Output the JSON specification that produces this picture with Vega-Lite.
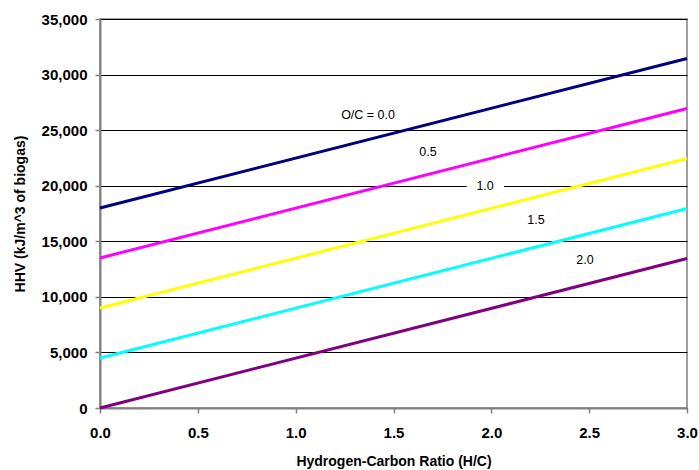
{
  "$schema": "https://vega.github.io/schema/vega-lite/v6.json",
  "autosize": {"type": "none"},
  "width": 587,
  "height": 389,
  "padding": {"left": 100, "top": 19, "right": 12, "bottom": 62},
  "background": "white",
  "config": {
    "font": "Liberation Sans",
    "view": {"stroke": "#808080", "strokeWidth": 1.5},
    "axis": {
      "labelFont": "Liberation Sans",
      "titleFont": "Liberation Sans",
      "labelFontWeight": "bold",
      "titleFontWeight": "bold",
      "labelColor": "black",
      "titleColor": "black",
      "labelFontSize": 15,
      "titleFontSize": 14,
      "domainColor": "#808080",
      "domainWidth": 2,
      "tickColor": "#808080",
      "tickWidth": 1.5,
      "tickSize": 5
    }
  },
  "datasets": {
    "lines": [
      {"hc": 0, "hhv": 18000, "oc": "0.0"},
      {"hc": 3, "hhv": 31450, "oc": "0.0"},
      {"hc": 0, "hhv": 13500, "oc": "0.5"},
      {"hc": 3, "hhv": 26950, "oc": "0.5"},
      {"hc": 0, "hhv": 9000, "oc": "1.0"},
      {"hc": 3, "hhv": 22450, "oc": "1.0"},
      {"hc": 0, "hhv": 4500, "oc": "1.5"},
      {"hc": 3, "hhv": 17950, "oc": "1.5"},
      {"hc": 0, "hhv": 0, "oc": "2.0"},
      {"hc": 3, "hhv": 13450, "oc": "2.0"}
    ],
    "labels": [
      {"hc": 1.37, "hhv": 26400, "text": "O/C = 0.0"},
      {"hc": 1.676, "hhv": 23000, "text": "0.5"},
      {"hc": 1.968, "hhv": 20000, "text": "1.0"},
      {"hc": 2.228, "hhv": 16900, "text": "1.5"},
      {"hc": 2.479, "hhv": 13300, "text": "2.0"}
    ],
    "gap": [
      {"x1": 1.874, "x2": 2.065, "y1": 19700, "y2": 20300}
    ]
  },
  "layer": [
    {
      "data": {"name": "gap"},
      "mark": {"type": "rect", "color": "white"},
      "encoding": {
        "x": {"field": "x1", "type": "quantitative", "scale": {"domain": [0, 3]},
          "axis": {"values": [0, 0.5, 1, 1.5, 2, 2.5, 3], "format": ".1f", "grid": false, "labelFlush": false,
            "title": "Hydrogen-Carbon Ratio (H/C)", "labelPadding": 12, "titleY": 46, "titleBaseline": "top"}},
        "x2": {"field": "x2"},
        "y": {"field": "y1", "type": "quantitative", "scale": {"domain": [0, 35000]},
          "axis": {"values": [0, 5000, 10000, 15000, 20000, 25000, 30000, 35000], "format": ",d",
            "gridColor": "black", "gridWidth": 1, "gridOpacity": 1, "labelFlush": false,
            "title": "HHV (kJ/m^3 of biogas)", "labelPadding": 8, "titleX": -80, "titleBaseline": "middle"}},
        "y2": {"field": "y2"}
      }
    },
    {
      "data": {"name": "lines"},
      "mark": {"type": "line", "strokeWidth": 3},
      "encoding": {
        "x": {"field": "hc", "type": "quantitative"},
        "y": {"field": "hhv", "type": "quantitative"},
        "color": {"field": "oc", "type": "nominal", "legend": null,
          "scale": {"domain": ["0.0", "0.5", "1.0", "1.5", "2.0"],
            "range": ["#000080", "#FF00FF", "#FFFF00", "#00FFFF", "#800080"]}}
      }
    },
    {
      "data": {"name": "labels"},
      "mark": {"type": "text", "fontSize": 12.5, "font": "Liberation Sans", "color": "black"},
      "encoding": {
        "x": {"field": "hc", "type": "quantitative"},
        "y": {"field": "hhv", "type": "quantitative"},
        "text": {"field": "text"}
      }
    }
  ]
}
